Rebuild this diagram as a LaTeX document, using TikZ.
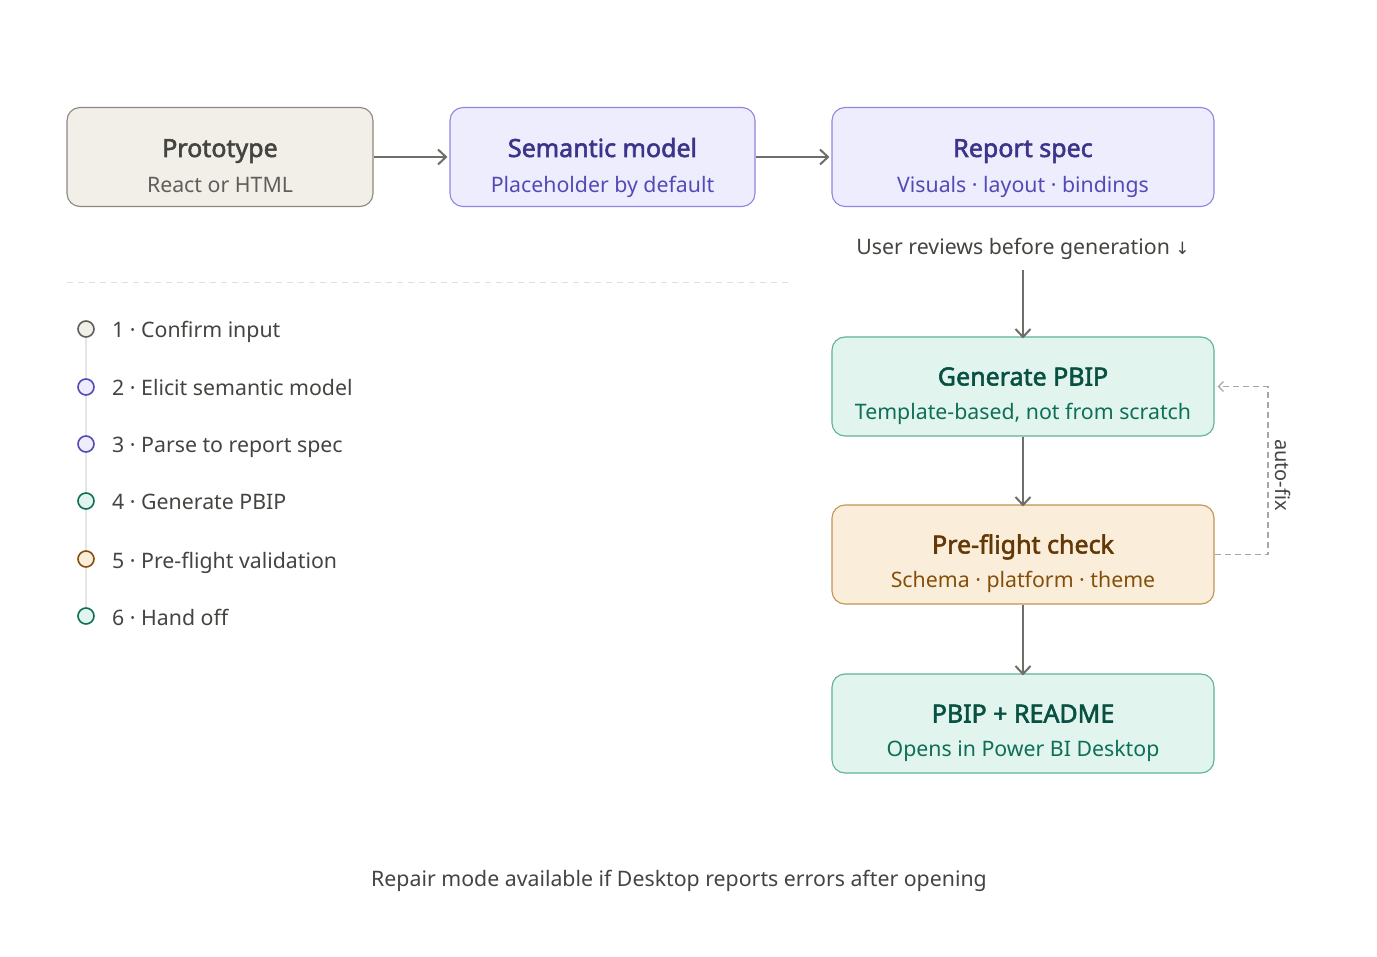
\documentclass[tikz,border=0pt]{standalone}
\usepackage{fontspec}
\setmainfont{Noto Sans}[AutoFakeBold=2.2]
\newfontfamily\symfont{DejaVu Sans}
\usetikzlibrary{arrows.meta}
\definecolor{grayfill}{HTML}{F1EFE8}
\definecolor{graystroke}{HTML}{8A8880}
\definecolor{graytitle}{HTML}{444441}
\definecolor{graysub}{HTML}{5F5E5A}
\definecolor{purfill}{HTML}{EEEDFE}
\definecolor{purstroke}{HTML}{8E86E2}
\definecolor{purtitle}{HTML}{3C3489}
\definecolor{pursub}{HTML}{534AB7}
\definecolor{tealfill}{HTML}{E1F5EE}
\definecolor{tealstroke}{HTML}{5EB396}
\definecolor{tealtitle}{HTML}{085041}
\definecolor{tealsub}{HTML}{0F6E56}
\definecolor{ambfill}{HTML}{FAEEDA}
\definecolor{ambstroke}{HTML}{C29355}
\definecolor{ambtitle}{HTML}{633806}
\definecolor{ambsub}{HTML}{854F0B}
\definecolor{arrowgray}{HTML}{6F6E69}
\definecolor{textgray}{HTML}{444441}
\tikzset{
  box/.style={draw, rounded corners=13pt, line width=1.1pt, minimum height=99pt, inner sep=0pt},
  ttl/.style={anchor=base, inner sep=0pt, font=\bfseries\fontsize{25}{30}\selectfont},
  sub/.style={anchor=base, inner sep=0pt, font=\fontsize{21.3}{26}\selectfont},
  conn/.style={draw=arrowgray, line width=2.3pt, -{Straight Barb[length=8pt,width=15pt,line width=2pt]}},
  stepdot/.style={circle, draw, line width=1.6pt, minimum size=16pt, inner sep=0pt},
  steptxt/.style={anchor=base west, inner sep=0pt, text=textgray, font=\fontsize{21.3}{26}\selectfont},
  plain/.style={anchor=base, inner sep=0pt, text=textgray, font=\fontsize{21.3}{26}\selectfont},
}
\begin{document}
\begin{tikzpicture}[x=1pt,y=-1pt]
\useasboundingbox[fill=white] (0,0) rectangle (1377,957);
% top row
\node[box, fill=grayfill, draw=graystroke, minimum width=306pt] (proto) at (220,157) {};
\node[ttl, text=graytitle] (protoT) at ([yshift=0pt]proto.center) {Prototype};
\node[sub, text=graysub] (protoS) at ([yshift=-36pt]proto.center) {React or HTML};
\node[box, fill=purfill, draw=purstroke, minimum width=305pt] (sem) at (602.5,157) {};
\node[ttl, text=purtitle] (semT) at ([yshift=0pt]sem.center) {Semantic model};
\node[sub, text=pursub] (semS) at ([yshift=-36pt]sem.center) {Placeholder by default};
\node[box, fill=purfill, draw=purstroke, minimum width=382pt] (spec) at (1023,157) {};
\node[ttl, text=purtitle] (specT) at ([yshift=0pt]spec.center) {Report spec};
\node[sub, text=pursub] (specS) at ([yshift=-36pt]spec.center) {Visuals · layout · bindings};
\draw[conn] (proto.east) -- ([xshift=-2pt]sem.west);
\draw[conn] (sem.east) -- ([xshift=-2pt]spec.west);
% review label
\node[plain] (review) at (1023,255) {User reviews before generation {\symfont\fontsize{17}{20}\selectfont ↓}};
% right column
\node[box, fill=tealfill, draw=tealstroke, minimum width=382pt] (gen) at (1023,386.5) {};
\node[ttl, text=tealtitle] (genT) at ([yshift=1pt]gen.center) {Generate PBIP};
\node[sub, text=tealsub] (genS) at ([yshift=-33pt]gen.center) {Template-based, not from scratch};
\node[box, fill=ambfill, draw=ambstroke, minimum width=382pt] (pre) at (1023,554.5) {};
\node[ttl, text=ambtitle] (preT) at ([yshift=1pt]pre.center) {Pre-flight check};
\node[sub, text=ambsub] (preS) at ([yshift=-33pt]pre.center) {Schema · platform · theme};
\node[box, fill=tealfill, draw=tealstroke, minimum width=382pt] (out) at (1023,723.5) {};
\node[ttl, text=tealtitle] (outT) at ([yshift=1pt]out.center) {PBIP + README};
\node[sub, text=tealsub] (outS) at ([yshift=-33pt]out.center) {Opens in Power BI Desktop};
\coordinate (revtop) at (1023,270);
\draw[conn] (revtop) -- ([yshift=-2pt]gen.north);
\draw[conn] (gen.south) -- ([yshift=-2pt]pre.north);
\draw[conn] (pre.south) -- ([yshift=-2pt]out.north);
% auto-fix loop
\coordinate (fixa) at (1268,554.5);
\coordinate (fixb) at (1268,386.5);
\draw[draw=gray!70, line width=1.3pt, dash pattern=on 6pt off 4pt, -{Straight Barb[length=5pt,width=10pt,line width=1.2pt]}] (pre.east) -- (fixa) -- (fixb) -- ([xshift=3pt]gen.east);
\node[rotate=-90, text=textgray, font=\fontsize{20}{24}\selectfont] (fixlbl) at (1283,475) {auto-fix};
% separator
\coordinate (sepa) at (67,283);
\coordinate (sepb) at (793,283);
\draw[draw=gray!25, line width=1pt, dash pattern=on 6pt off 5pt] (sepa) -- (sepb);
% steps
\coordinate (railtop) at (86,329);
\coordinate (railbot) at (86,616);
\draw[draw=gray!20, line width=2pt] (railtop) -- (railbot);
\node[stepdot, draw=graysub, fill=grayfill] (s1) at (86,329) {};
\node[stepdot, draw=pursub, fill=purfill] (s2) at (86,387) {};
\node[stepdot, draw=pursub, fill=purfill] (s3) at (86,444) {};
\node[stepdot, draw=tealsub, fill=tealfill] (s4) at (86,501) {};
\node[stepdot, draw=ambsub, fill=ambfill] (s5) at (86,559) {};
\node[stepdot, draw=tealsub, fill=tealfill] (s6) at (86,616) {};
\node[steptxt] (t1) at (112,338) {1 · Confirm input};
\node[steptxt] (t2) at (112,396) {2 · Elicit semantic model};
\node[steptxt] (t3) at (112,453) {3 · Parse to report spec};
\node[steptxt] (t4) at (112,510) {4 · Generate PBIP};
\node[steptxt] (t5) at (112,568) {5 · Pre-flight validation};
\node[steptxt] (t6) at (112,625) {6 · Hand off};
% footer
\node[plain] (foot) at (679,886) {Repair mode available if Desktop reports errors after opening};
\end{tikzpicture}
\end{document}
